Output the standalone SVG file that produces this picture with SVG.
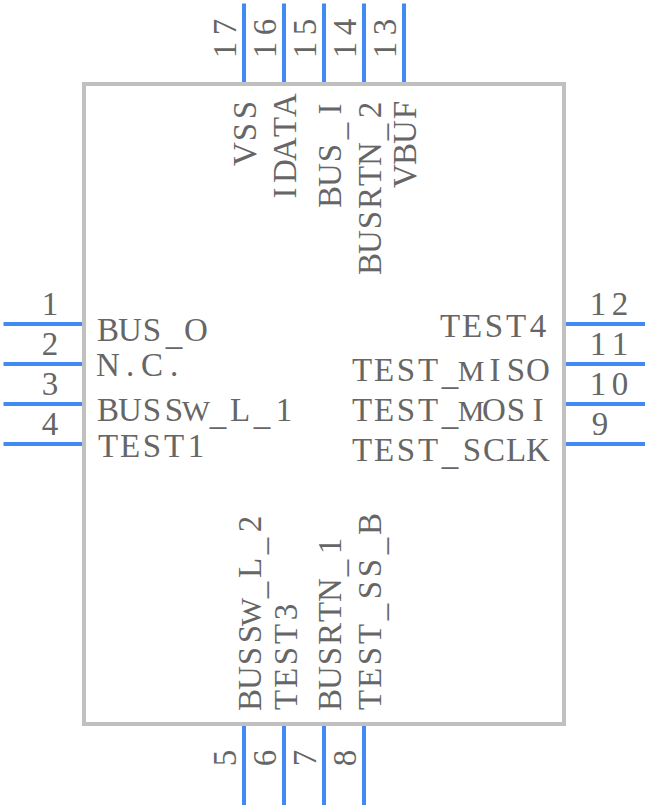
<svg xmlns="http://www.w3.org/2000/svg" width="648" height="808" viewBox="0 0 648 808">
<style>
text{font-family:"Liberation Serif","DejaVu Serif",serif;font-size:33px;fill:#666;text-anchor:middle}
.w{font-size:30px}
.pin{stroke:#4189f5;stroke-width:4;fill:none}
#body rect{fill:#fff;stroke:#c0c0c0;stroke-width:4}
</style>
<rect width="648" height="808" fill="#fff"/>
<g id="body"><rect x="84" y="84" width="480" height="640"/></g>
<g id="connectors">
<path class="pin" d="M3.5 324H82M3.5 364H82M3.5 404H82M3.5 444H82M566 324H645M566 364H645M566 404H645M566 444H645M244 3.5V82M284 3.5V82M324 3.5V82M364 3.5V82M404 3.5V82M244 726V805M284 726V805M324 726V805M364 726V805"/>
</g>
<g id="pin1"><text x="50" y="315">1</text><text x="108 130 152 174 196" y="341" dy="0 0 0 4 -4">BUS_O</text></g>
<g id="pin2"><text x="50" y="355">2</text><text x="108 130 152 174" y="376">N.C.</text></g>
<g id="pin3"><text x="50" y="395">3</text><text x="108 130 152 174 196 218 240 262 284" y="421" dy="0 0 0 0 0 4 -4 4 -4">BUSS<tspan class="w">W</tspan>_L_1</text></g>
<g id="pin4"><text x="50" y="435">4</text><text x="108 130 152 174 196" y="457">TEST1</text></g>
<g id="pin5"><text transform="translate(236 758) rotate(-90)" x="0">5</text><text transform="translate(261 711) rotate(-90)" x="11 33 55 77 99 121 143 165 187" dy="0 0 0 0 0 4 -4 4 -4">BUSS<tspan class="w">W</tspan>_L_2</text></g>
<g id="pin6"><text transform="translate(276 758) rotate(-90)" x="0">6</text><text transform="translate(297 711) rotate(-90)" x="11 33 55 77 99">TEST3</text></g>
<g id="pin7"><text transform="translate(316 758) rotate(-90)" x="0">7</text><text transform="translate(341 711) rotate(-90)" x="11 33 55 77 99 121 143 165" dy="0 0 0 0 0 0 4 -4">BUSRTN_1</text></g>
<g id="pin8"><text transform="translate(356 758) rotate(-90)" x="0">8</text><text transform="translate(381 711) rotate(-90)" x="11 33 55 77 99 121 143 165 187" dy="0 0 0 0 4 -4 0 4 -4">TEST_SS_B</text></g>
<g id="pin9"><text x="600" y="435">9</text><text x="362 384 406 428 450 472 494 516 538" y="461" dy="0 0 0 0 4 -4">TEST_SCLK</text></g>
<g id="pin10"><text x="598 620" y="395">10</text><text x="362 384 406 428 450 471 494 516 538" y="421" dy="0 0 0 0 4 -4">TEST_<tspan class="w">M</tspan>OSI</text></g>
<g id="pin11"><text x="598 620" y="355">11</text><text x="362 384 406 428 450 471 495 516 538" y="381" dy="0 0 0 0 4 -4">TEST_<tspan class="w">M</tspan>ISO</text></g>
<g id="pin12"><text x="598 620" y="315">12</text><text x="450 472 494 516 538" y="337">TEST4</text></g>
<g id="pin13"><text transform="translate(396 61) rotate(-90)" x="11 34">13</text><text transform="translate(416 187) rotate(-90)" x="11 33 55 77">VBUF</text></g>
<g id="pin14"><text transform="translate(356 61) rotate(-90)" x="11 34">14</text><text transform="translate(381 275) rotate(-90)" x="11 33 55 77 99 121 143 165" dy="0 0 0 0 0 0 4 -4">BUSRTN_2</text></g>
<g id="pin15"><text transform="translate(316 61) rotate(-90)" x="11 34">15</text><text transform="translate(341 208) rotate(-90)" x="11 33 55 77 99" dy="0 0 0 4 -4">BUS_I</text></g>
<g id="pin16"><text transform="translate(276 61) rotate(-90)" x="11 34">16</text><text transform="translate(296 204) rotate(-90)" x="11 33 55 77 99">IDATA</text></g>
<g id="pin17"><text transform="translate(236 61) rotate(-90)" x="11 34">17</text><text transform="translate(256 165) rotate(-90)" x="11 33 55">VSS</text></g>
</svg>
